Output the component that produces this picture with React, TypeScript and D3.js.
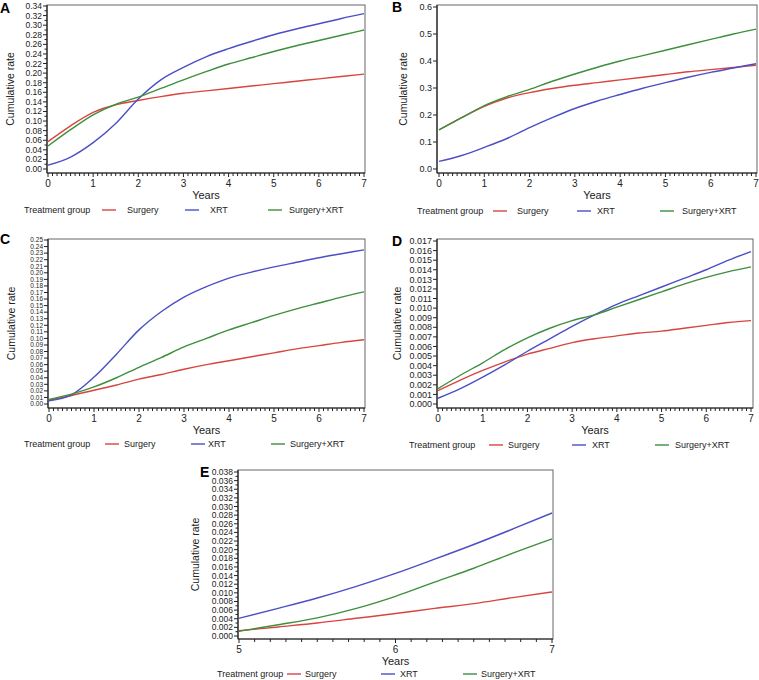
import React from "react";
import * as d3 from "d3";

const seriesNames = ["Surgery", "XRT", "Surgery+XRT"];
const seriesColors = ["#d8453f", "#4b4fc4", "#3d8f3d"];

const yearsAD = [0, 0.5, 1, 1.5, 2, 2.5, 3, 3.5, 4, 4.5, 5, 5.5, 6, 6.5, 7];
const yearsE = [5, 5.25, 5.5, 5.75, 6, 6.25, 6.5, 6.75, 7];

const aSurgery = [0.057, 0.09, 0.118, 0.134, 0.143, 0.151, 0.158, 0.163, 0.168, 0.173, 0.178, 0.183, 0.188, 0.193, 0.198];
const aXRT = [0.008, 0.025, 0.055, 0.095, 0.146, 0.186, 0.212, 0.234, 0.251, 0.266, 0.28, 0.292, 0.303, 0.314, 0.324];
const aBoth = [0.048, 0.082, 0.113, 0.135, 0.15, 0.168, 0.186, 0.203, 0.219, 0.232, 0.245, 0.257, 0.268, 0.279, 0.29];

const bSurgery = [0.145, 0.19, 0.232, 0.263, 0.283, 0.298, 0.31, 0.32, 0.33, 0.34, 0.35, 0.36, 0.368, 0.376, 0.384];
const bXRT = [0.028, 0.05, 0.08, 0.113, 0.153, 0.19, 0.224, 0.252, 0.276, 0.299, 0.32, 0.34, 0.358, 0.374, 0.39];
const bBoth = [0.145, 0.19, 0.235, 0.268, 0.295, 0.325, 0.352, 0.377, 0.4, 0.42, 0.44, 0.46, 0.48, 0.5, 0.518];

const cSurgery = [0.006, 0.013, 0.021, 0.029, 0.038, 0.045, 0.053, 0.06, 0.066, 0.072, 0.078, 0.084, 0.089, 0.094, 0.098];
const cXRT = [0.005, 0.014, 0.041, 0.076, 0.113, 0.141, 0.163, 0.179, 0.192, 0.201, 0.209, 0.216, 0.223, 0.229, 0.235];
const cBoth = [0.007, 0.015, 0.026, 0.04, 0.056, 0.071, 0.087, 0.1, 0.113, 0.124, 0.135, 0.145, 0.154, 0.163, 0.171];

const dSurgery = [0.0014, 0.0025, 0.0035, 0.0044, 0.0052, 0.0058, 0.0064, 0.0068, 0.0071, 0.0074, 0.0076, 0.0079, 0.0082, 0.0085, 0.0087];
const dXRT = [0.0006, 0.0016, 0.0028, 0.0041, 0.0055, 0.0068, 0.0081, 0.0093, 0.0104, 0.0113, 0.0122, 0.0131, 0.014, 0.015, 0.0159];
const dBoth = [0.0016, 0.003, 0.0043, 0.0057, 0.0069, 0.0079, 0.0087, 0.0093, 0.0101, 0.0109, 0.0117, 0.0125, 0.0132, 0.0138, 0.0143];

const eSurgery = [0.0012, 0.0021, 0.003, 0.0041, 0.0052, 0.0064, 0.0075, 0.0089, 0.0102];
const eXRT = [0.0041, 0.0064, 0.0088, 0.0115, 0.0145, 0.0178, 0.0212, 0.0248, 0.0285];
const eBoth = [0.0011, 0.0026, 0.0042, 0.0064, 0.0092, 0.0125, 0.0157, 0.0192, 0.0225];

const xTicksAD = [0, 1, 2, 3, 4, 5, 6, 7];
const xTicksE = [5, 6, 7];

const FONT = "'Liberation Sans', Arial, sans-serif";

type PanelProps = {
  letter: string;
  letterPos: [number, number];
  frame: { l: number; r: number; t: number; b: number };
  xPix: [number, number];
  yPix: [number, number];
  xDomain: [number, number];
  yMax: number;
  yStep: number;
  yMinorPerMajor: number;
  yDecimals: number;
  yFont: number;
  xTicks: number[];
  years: number[];
  series: number[][];
  yLabelX: number;
  legendY: number;
  legendX: number[];
};

function Panel(p: PanelProps) {
  const x = d3.scaleLinear().domain(p.xDomain).range(p.xPix);
  const y = d3.scaleLinear().domain([0, p.yMax]).range(p.yPix);
  const nMajor = Math.round(p.yMax / p.yStep);
  const yMajor = d3.range(nMajor + 1).map((i) => i * p.yStep);
  const yMinor: number[] = [];
  if (p.yMinorPerMajor > 1) {
    for (let i = 0; i < nMajor; i++)
      for (let j = 1; j < p.yMinorPerMajor; j++)
        yMinor.push((i + j / p.yMinorPerMajor) * p.yStep);
  }
  const xMinor: number[] = [];
  for (let i = 0; i < p.xTicks.length - 1; i++)
    for (let j = 1; j < 10; j++)
      xMinor.push(p.xTicks[i] + (j / 10) * (p.xTicks[i + 1] - p.xTicks[i]));
  const line = d3
    .line<number>()
    .x((_, i) => x(p.years[i]))
    .y((v) => y(v))
    .curve(d3.curveMonotoneX);
  const { l, r, t, b } = p.frame;
  const fmt = d3.format(`.${p.yDecimals}f`);
  const midX = (l + r) / 2;
  const midY = (t + b) / 2;
  const lx = p.legendX;
  return (
    <g fontFamily={FONT}>
      <text x={p.letterPos[0]} y={p.letterPos[1]} fontSize={14} fontWeight="bold" fill="#000">
        {p.letter}
      </text>
      <rect x={l} y={t} width={r - l} height={b - t} fill="none" stroke="#666" strokeWidth={1} />
      <line x1={l} x2={l} y1={t} y2={b} stroke="#222" strokeWidth={1.2} />
      <line x1={l} x2={r} y1={b} y2={b} stroke="#222" strokeWidth={1.2} />
      {yMajor.map((v) => (
        <g key={"ym" + v}>
          <line x1={l - 4} x2={l} y1={y(v)} y2={y(v)} stroke="#222" />
          <text x={l - 5} y={y(v)} dy="0.35em" textAnchor="end" fontSize={p.yFont} fill="#222">
            {fmt(v)}
          </text>
        </g>
      ))}
      {yMinor.map((v) => (
        <line key={"yn" + v} x1={l - 2.5} x2={l} y1={y(v)} y2={y(v)} stroke="#222" />
      ))}
      {p.xTicks.map((v) => (
        <g key={"xm" + v}>
          <line x1={x(v)} x2={x(v)} y1={b} y2={b + 4} stroke="#222" />
          <text x={x(v)} y={b + 14} textAnchor="middle" fontSize={10} fill="#222">
            {v}
          </text>
        </g>
      ))}
      {xMinor.map((v, i) => (
        <line key={"xn" + i} x1={x(v)} x2={x(v)} y1={b} y2={b + 3} stroke="#222" />
      ))}
      <text x={midX} y={b + 26} textAnchor="middle" fontSize={11} fill="#222">
        Years
      </text>
      <text
        transform={`translate(${p.yLabelX},${midY}) rotate(-90)`}
        textAnchor="middle"
        dy="0.35em"
        fontSize={10.5}
        fill="#222"
      >
        Cumulative rate
      </text>
      {p.series.map((s, i) => (
        <path key={"s" + i} d={line(s) || ""} fill="none" stroke={seriesColors[i]} strokeWidth={1.4} />
      ))}
      <text x={lx[0]} y={p.legendY} dy="0.35em" fontSize={9} fill="#222">
        Treatment group
      </text>
      {seriesNames.map((n, i) => (
        <g key={"lg" + i}>
          <line
            x1={lx[1 + i * 2]}
            x2={lx[1 + i * 2] + 14}
            y1={p.legendY}
            y2={p.legendY}
            stroke={seriesColors[i]}
            strokeWidth={1.4}
          />
          <text x={lx[2 + i * 2]} y={p.legendY} dy="0.35em" fontSize={9} fill="#222">
            {n}
          </text>
        </g>
      ))}
    </g>
  );
}

export default function App() {
  return (
    <svg
      width={759}
      height={680}
      style={{ position: "absolute", left: 0, top: 0, background: "#fff" }}
    >
      <Panel
        letter="A"
        letterPos={[0, 13]}
        frame={{ l: 47, r: 365, t: 5, b: 173 }}
        xPix={[48, 364]}
        yPix={[169, 6]}
        xDomain={[0, 7]}
        yMax={0.34}
        yStep={0.02}
        yMinorPerMajor={2}
        yDecimals={2}
        yFont={8.5}
        xTicks={xTicksAD}
        years={yearsAD}
        series={[aSurgery, aXRT, aBoth]}
        yLabelX={10}
        legendY={210}
        legendX={[24, 102, 127, 185, 210, 268, 289]}
      />
      <Panel
        letter="B"
        letterPos={[392, 12]}
        frame={{ l: 437, r: 757, t: 5, b: 173 }}
        xPix={[439, 756]}
        yPix={[169, 7]}
        xDomain={[0, 7]}
        yMax={0.6}
        yStep={0.1}
        yMinorPerMajor={1}
        yDecimals={1}
        yFont={9}
        xTicks={xTicksAD}
        years={yearsAD}
        series={[bSurgery, bXRT, bBoth]}
        yLabelX={403}
        legendY={211}
        legendX={[417, 493, 517, 577, 597, 660, 682]}
      />
      <Panel
        letter="C"
        letterPos={[0, 244]}
        frame={{ l: 48, r: 365, t: 239, b: 408 }}
        xPix={[49, 364]}
        yPix={[404, 240]}
        xDomain={[0, 7]}
        yMax={0.25}
        yStep={0.01}
        yMinorPerMajor={1}
        yDecimals={2}
        yFont={6.5}
        xTicks={xTicksAD}
        years={yearsAD}
        series={[cSurgery, cXRT, cBoth]}
        yLabelX={11}
        legendY={444}
        legendX={[24, 105, 124, 191, 208, 271, 290]}
      />
      <Panel
        letter="D"
        letterPos={[392, 246]}
        frame={{ l: 437, r: 753, t: 239, b: 408 }}
        xPix={[438, 751]}
        yPix={[404, 241]}
        xDomain={[0, 7]}
        yMax={0.017}
        yStep={0.001}
        yMinorPerMajor={1}
        yDecimals={3}
        yFont={9}
        xTicks={xTicksAD}
        years={yearsAD}
        series={[dSurgery, dXRT, dBoth]}
        yLabelX={397}
        legendY={445}
        legendX={[409, 489, 508, 572, 592, 655, 675]}
      />
      <Panel
        letter="E"
        letterPos={[200, 477]}
        frame={{ l: 238, r: 553, t: 470, b: 639 }}
        xPix={[239, 552]}
        yPix={[636, 472]}
        xDomain={[5, 7]}
        yMax={0.038}
        yStep={0.002}
        yMinorPerMajor={2}
        yDecimals={3}
        yFont={8.5}
        xTicks={xTicksE}
        years={yearsE}
        series={[eSurgery, eXRT, eBoth]}
        yLabelX={195}
        legendY={674}
        legendX={[217, 287, 305, 381, 400, 463, 481]}
      />
    </svg>
  );
}
